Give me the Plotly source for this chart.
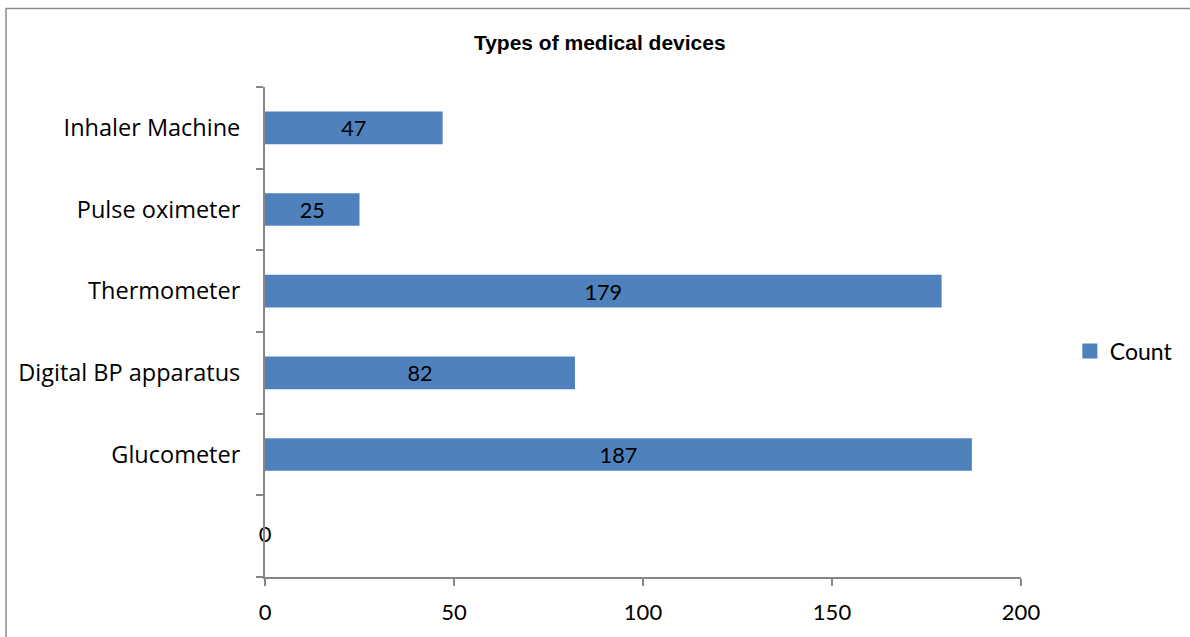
import plotly.graph_objects as go

categories = [" ", "Glucometer", "Digital BP apparatus", "Thermometer", "Pulse oximeter", "Inhaler Machine"]
counts = [0, 187, 82, 179, 25, 47]
x_ticks = [0, 50, 100, 150, 200]
series_name = "Count"

FONT = "Lato"
LABEL_FONT = "Open Sans"
BAR_COLOR = "#4F81BD"
AXIS_COLOR = "#868686"

nonzero_text = [str(v) if v != 0 else "" for v in counts]
zero_x = [v for v in counts if v == 0]
zero_y = [c for c, v in zip(categories, counts) if v == 0]

fig = go.Figure()
fig.add_trace(go.Bar(
    x=counts, y=categories, orientation="h", name=series_name,
    marker=dict(color=BAR_COLOR, line=dict(width=0)),
    width=0.4, showlegend=False,
    text=nonzero_text, textposition="inside", insidetextanchor="middle", textangle=0,
    textfont=dict(family=FONT, size=22, color="black"),
    cliponaxis=False,
))
fig.add_trace(go.Scatter(
    x=zero_x, y=zero_y, mode="text", text=[str(v) for v in zero_x],
    textposition="middle center", textfont=dict(family=FONT, size=22, color="black"),
    showlegend=False, hoverinfo="skip", cliponaxis=False,
))
# legend entry (square swatch like the original)
fig.add_trace(go.Scatter(
    x=[None], y=[None], mode="markers", name=series_name,
    marker=dict(symbol="square", size=15, color=BAR_COLOR),
    showlegend=True, hoverinfo="skip",
))

fig.update_layout(
    width=1190, height=637,
    margin=dict(l=265, r=166, t=87, b=60),
    plot_bgcolor="white", paper_bgcolor="white",
    title=dict(text="<b>Types of medical devices</b>", x=0.504, xanchor="center",
               y=1 - 43 / 637, yanchor="middle",
               font=dict(family="Liberation Sans", size=21, color="black")),
    showlegend=True,
    legend=dict(x=1.0646, y=0.461, xanchor="left", yanchor="middle",
                font=dict(family=FONT, size=23, color="black"),
                itemwidth=30, tracegroupgap=0),
    bargap=0.6,
)
fig.update_xaxes(
    range=[0, 200], tickvals=x_ticks, ticktext=[str(t) for t in x_ticks],
    showgrid=False, zeroline=False, showline=True, linecolor=AXIS_COLOR, linewidth=2,
    ticks="outside", ticklen=7, tickcolor=AXIS_COLOR, tickwidth=2,
    tickfont=dict(family=FONT, size=22, color="black"), ticklabelstandoff=8,
)
fig.update_yaxes(
    type="category", categoryorder="array", categoryarray=categories,
    range=[-0.5, len(categories) - 0.5],
    showgrid=False, zeroline=False, showline=True, linecolor=AXIS_COLOR, linewidth=2,
    ticks="outside", ticklen=7, tickcolor=AXIS_COLOR, tickwidth=2, tickson="boundaries",
    tickfont=dict(family=LABEL_FONT, size=23.5, color="black"), ticklabelstandoff=18,
)
fig.add_shape(type="rect", xref="paper", yref="paper",
              x0=(5 - 265) / 759, x1=(1230 - 265) / 759,
              y0=(577 - 660) / 490, y1=(577 - 8.5) / 490,
              line=dict(color="#8c8c8c", width=1.5), fillcolor="rgba(0,0,0,0)", layer="below")

fig.write_html("out.html")
